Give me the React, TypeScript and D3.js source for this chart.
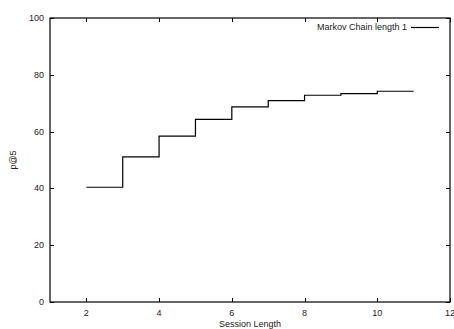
import { useRef, useEffect } from 'react';
import * as d3 from 'd3';

// session lengths and p@5 values (step plot)
const sessionLengths = [2, 3, 4, 5, 6, 7, 8, 9, 10, 11];
const p5Values = [40.4, 51.1, 58.4, 64.3, 68.7, 70.9, 72.8, 73.4, 74.2, 74.2];
const xTicks = [2, 4, 6, 8, 10, 12];
const yTicks = [0, 20, 40, 60, 80, 100];
const seriesName = 'Markov Chain length 1';

export default function App() {
    const chartRef = useRef<SVGSVGElement>(null);

    useEffect(() => {
        if (!chartRef.current) return;
        const svg = d3.select(chartRef.current);
        svg.selectAll('*').remove();

        const W = 454, H = 329;
        const margin = { top: 18, right: 4, bottom: 27, left: 50 };
        const fontFamily = '"Liberation Sans", Arial, sans-serif';

        const x = d3.scaleLinear().domain([1, 12]).range([margin.left, W - margin.right]);
        const y = d3.scaleLinear().domain([0, 100]).range([H - margin.bottom, margin.top]);

        svg.append('rect').attr('width', W).attr('height', H).attr('fill', 'white');

        const tickLen = 4;
        const g = svg.append('g').attr('font-family', fontFamily).attr('font-size', 9).attr('fill', '#222');

        // ticks (mirrored inside all four sides)
        xTicks.forEach(t => {
            const px = Math.round(x(t)) + 0.5;
            g.append('line').attr('x1', px).attr('x2', px)
                .attr('y1', y(0)).attr('y2', y(0) - tickLen).attr('stroke', '#000');
            g.append('line').attr('x1', px).attr('x2', px)
                .attr('y1', y(100)).attr('y2', y(100) + tickLen).attr('stroke', '#000');
            g.append('text').attr('x', x(t)).attr('y', y(0) + 14)
                .attr('text-anchor', 'middle').text(t);
        });
        yTicks.forEach(t => {
            const py = Math.round(y(t)) + 0.5;
            g.append('line').attr('x1', x(1)).attr('x2', x(1) + tickLen)
                .attr('y1', py).attr('y2', py).attr('stroke', '#000');
            g.append('line').attr('x1', x(12)).attr('x2', x(12) - tickLen)
                .attr('y1', py).attr('y2', py).attr('stroke', '#000');
            g.append('text').attr('x', x(1) - 6).attr('y', y(t) + 3)
                .attr('text-anchor', 'end').text(t);
        });

        // frame
        svg.append('rect')
            .attr('x', x(1)).attr('y', y(100))
            .attr('width', x(12) - x(1)).attr('height', y(0) - y(100))
            .attr('fill', 'none').attr('stroke', '#000').attr('stroke-width', 1.2);

        // axis titles
        g.append('text').attr('x', (x(1) + x(12)) / 2).attr('y', H - 2)
            .attr('text-anchor', 'middle').text('Session Length');
        g.append('text')
            .attr('transform', `translate(16,${(y(0) + y(100)) / 2}) rotate(-90)`)
            .attr('text-anchor', 'middle').text('p@5');

        // step line
        const line = d3.line<number>()
            .x((_, i) => x(sessionLengths[i]))
            .y(d => y(d))
            .curve(d3.curveStepAfter);
        svg.append('path')
            .datum(p5Values)
            .attr('fill', 'none')
            .attr('stroke', '#000')
            .attr('stroke-width', 1.2)
            .attr('d', line);

        // legend
        const ly = 27;
        g.append('text').attr('x', 407).attr('y', ly + 3)
            .attr('text-anchor', 'end').text(seriesName);
        svg.append('line').attr('x1', 411).attr('x2', 439)
            .attr('y1', ly + 0.5).attr('y2', ly + 0.5)
            .attr('stroke', '#000').attr('stroke-width', 1.2);
    }, []);

    return (
        <svg ref={chartRef} width={454} height={329}
            style={{ position: 'absolute', left: 0, top: 0 }} />
    );
}
